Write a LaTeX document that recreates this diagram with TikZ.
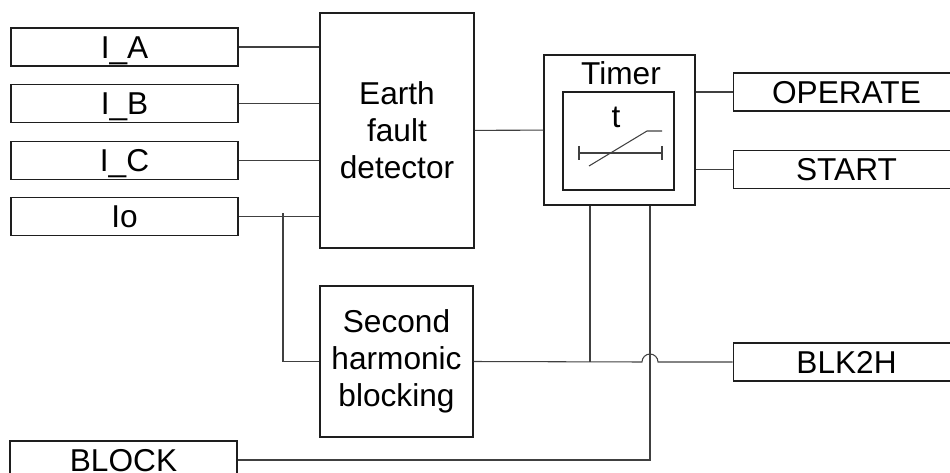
\documentclass[tikz,border=0pt]{standalone}
\usepackage{fontspec}
\setmainfont{Liberation Sans}
\usetikzlibrary{positioning}
\definecolor{wiregray}{RGB}{64,64,64}
\definecolor{boxdark}{RGB}{30,30,30}

\begin{document}
\begin{tikzpicture}[x=0.02cm,y=-0.02cm,line width=0.6pt]
\tikzstyle{sig}=[draw=boxdark,minimum width=4.54cm,minimum height=0.76cm,inner sep=0pt,font=\fontsize{18}{21}\selectfont,text height=12.9pt,text depth=0pt]
\tikzstyle{blk}=[draw=boxdark,inner sep=0pt,align=center,font=\fontsize{18}{21}\selectfont]
\tikzstyle{wire}=[draw=wiregray]
\clip (0,0) rectangle (950,473);
% inputs
\node[sig] (ia) at (124.5,47) {I\_A};
\node[sig,below=0.34cm of ia] (ib) {I\_B};
\node[sig,below=0.36cm of ib] (ic) {I\_C};
\node[sig,below=0.34cm of ic] (io) {Io};
\node[sig] (block) at (123.5,460) {BLOCK};
% function blocks
\node[blk,minimum width=3.08cm,minimum height=4.70cm] (efd) at (397,130.5) {Earth\\fault\\detector};
\node[blk,minimum width=3.06cm,minimum height=3.02cm] (shb) at (396.5,361.5) {Second\\harmonic\\blocking};
\node[blk,minimum width=3.02cm,minimum height=3.00cm] (timer) at (619.5,130) {};
\node[blk,minimum width=2.22cm,minimum height=1.96cm] (tin) at (618.5,141) {};
\node[font=\fontsize{18}{21}\selectfont,anchor=base] (tlabel) at (621,85) {Timer};
\node[font=\fontsize{18}{21}\selectfont,anchor=base] (tsym) at (616,128) {t};
\draw[wire] (579,153) -- (662,153) (579,146) -- (579,160) (662,146) -- (662,160);
\draw[wire] (589,166) -- (647,131) -- (662,131);
% outputs
\node[sig] (operate) at (846.5,92) {OPERATE};
\node[sig,below=0.76cm of operate] (start) {START};
\node[sig] (blk2h) at (846.5,362) {BLK2H};
% connections
\coordinate (jo) at (283,213);
\coordinate (jt) at (590,362);
\coordinate (hop) at (650,362);
\draw[wire] (ia) -- (ia -| efd.west);
\draw[wire] (ib) -- (ib -| efd.west);
\draw[wire] (ic) -- (ic -| efd.west);
\draw[wire] (io) -- (io -| efd.west);
\draw[wire] (jo) |- (shb.west);
\draw[wire] (efd) -- (timer);
\draw[wire] (operate -| timer.east) -- (operate);
\draw[wire] (start -| timer.east) -- (start);
\draw[wire] (timer.south -| jt) -- (jt);
\draw[wire] (timer.south -| hop) |- (block.east);
\draw[wire] (shb.east) -- ([xshift=-0.16cm]hop) arc[start angle=180,end angle=0,radius=0.16cm] -- (blk2h.west);
\end{tikzpicture}
\end{document}
